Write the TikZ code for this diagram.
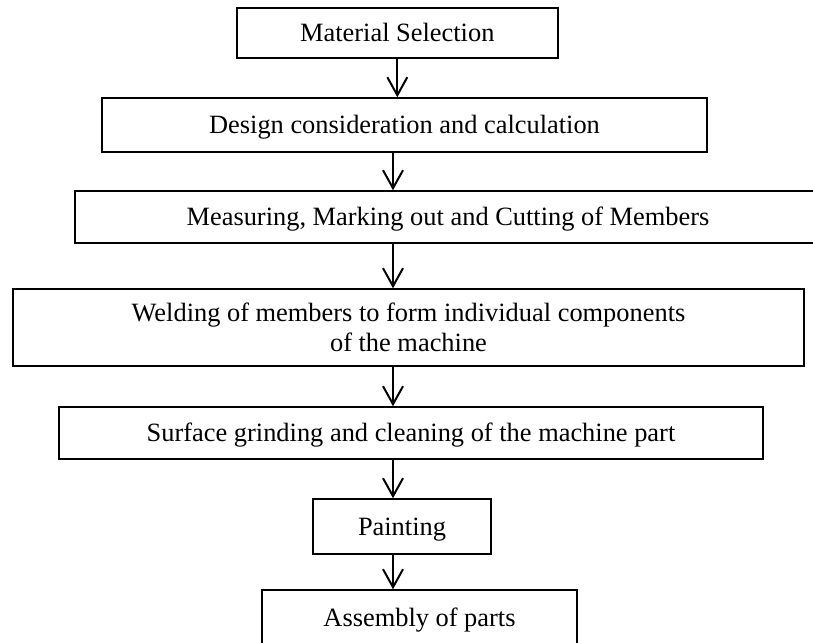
\documentclass[tikz,border=0pt]{standalone}
\usepackage{fontspec}
\setmainfont{Liberation Serif}
\usetikzlibrary{arrows.meta}
\begin{document}
\begin{tikzpicture}[x=1pt,y=-1pt,
  stepbox/.style={draw, line width=1.5pt, inner sep=0pt, align=center,
    font=\fontsize{26.4}{30}\selectfont, text height=17.5pt, text depth=0pt},
  arr/.style={line width=2pt, -{Straight Barb[length=18pt,width=20pt,line width=2pt]}}]
\useasboundingbox (0,0) rectangle (813,642);
\begin{scope}
\clip (0,0) rectangle (813,642);
\node[stepbox, minimum width=321pt, minimum height=50pt] (ms) at (397.3,33) {Material Selection};
\node[stepbox, minimum width=605pt, minimum height=54pt] (ds) at (404.5,125) {Design consideration and calculation};
\node[stepbox, minimum width=746pt, minimum height=52pt] (mm) at (448,217) {Measuring, Marking out and Cutting of Members};
\node[stepbox, minimum width=791pt, minimum height=77pt, text height=, text depth=] (wd) at (408.5,327.5) {Welding of members to form individual components\\ of the machine};
\node[stepbox, minimum width=704pt, minimum height=52pt] (sg) at (411,433) {Surface grinding and cleaning of the machine part};
\node[stepbox, minimum width=178pt, minimum height=55pt] (pt) at (402,526.5) {Painting};
\node[stepbox, minimum width=315pt, minimum height=56pt] (as) at (419.5,618) {Assembly of parts};
\coordinate (spine) at (393,0);
\draw[arr] (ms.south) -- (ms.south |- ds.north);
\draw[arr] (ds.south -| spine) -- (mm.north -| spine);
\draw[arr] (mm.south -| spine) -- (wd.north -| spine);
\draw[arr] (wd.south -| spine) -- (sg.north -| spine);
\draw[arr] (sg.south -| spine) -- (pt.north -| spine);
\draw[arr] (pt.south -| spine) -- (as.north -| spine);
\end{scope}
\end{tikzpicture}
\end{document}
